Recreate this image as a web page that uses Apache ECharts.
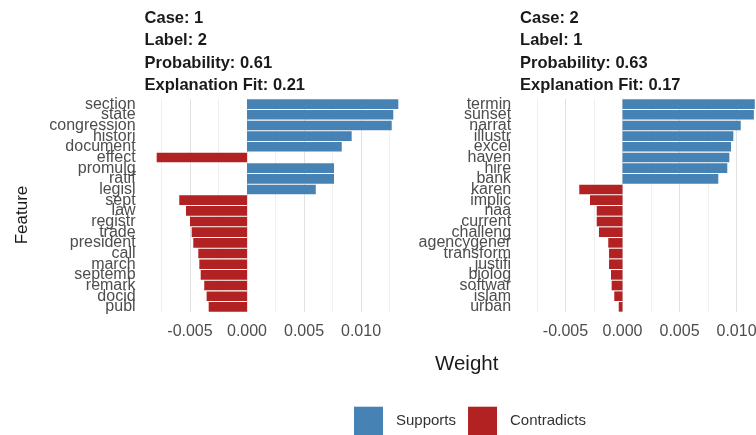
<!DOCTYPE html>
<html>
<head>
<meta charset="utf-8">
<title>LIME features</title>
<script src="https://cdn.jsdelivr.net/npm/echarts@6/dist/echarts.min.js"></script>
<style>
  html, body { margin: 0; padding: 0; background: #fff; }
  #main { width: 756px; height: 435px; }
</style>
</head>
<body>
<div id="main"></div>
<script>
    // 数据
    var caseIds = [1, 2];
    var caseLabels = [2, 1];
    var probabilities = [0.61, 0.63];
    var explanationFits = [0.21, 0.17];

    var features1 = ['section', 'state', 'congression', 'histori', 'document', 'effect', 'promulg', 'ratif', 'legisl',
        'sept', 'law', 'registr', 'trade', 'president', 'call', 'march', 'septemb', 'remark', 'docid', 'publ'];
    var weights1 = [0.01327, 0.01283, 0.01269, 0.00918, 0.00831, -0.00792, 0.00763, 0.00763, 0.00603,
        -0.00594, -0.00535, -0.00500, -0.00485, -0.00471, -0.00427, -0.00418, -0.00406, -0.00375, -0.00354, -0.00336];

    var features2 = ['termin', 'sunset', 'narrat', 'illustr', 'excel', 'haven', 'hire', 'bank', 'karen', 'implic',
        'naa', 'current', 'challeng', 'agencygener', 'transform', 'justifi', 'biolog', 'softwar', 'islam', 'urban'];
    var weights2 = [0.01160, 0.01152, 0.01037, 0.00972, 0.00952, 0.00937, 0.00919, 0.00840, -0.00379, -0.00285,
        -0.00226, -0.00226, -0.00206, -0.00125, -0.00118, -0.00118, -0.00101, -0.00095, -0.00072, -0.00033];

    var xTicks = [-0.005, 0, 0.005, 0.01];
    var minorTicks = [-0.0075, -0.0025, 0.0025, 0.0075, 0.0125];
    var xMin = -0.00898, xMax = 0.01433;

    var blue = '#4682B4', red = '#B22222';
    var grids = [
        { left: 144.6, top: 98.8, width: 265.8, height: 213.4 },
        { left: 520.1, top: 98.8, width: 265.8, height: 213.4 }
    ];

    function titleText(i) {
        return 'Case: ' + caseIds[i] + '\nLabel: ' + caseLabels[i] +
            '\nProbability: ' + probabilities[i].toFixed(2) +
            '\nExplanation Fit: ' + explanationFits[i].toFixed(2);
    }

    // 背景网格线 (precision 要设高, 默认2位会把0.0025等值四舍五入)
    function gridLines(i) {
        var data = [];
        xTicks.forEach(function(v) {
            data.push({ xAxis: v, lineStyle: { color: '#e2e2e2', width: 1, type: 'solid' } });
        });
        minorTicks.forEach(function(v) {
            data.push({ xAxis: v, lineStyle: { color: '#f0f0f0', width: 1, type: 'solid' } });
        });
        return {
            type: 'line', xAxisIndex: i, yAxisIndex: i, data: [], z: 0, silent: true,
            markLine: { z: 0, precision: 6, silent: true, symbol: 'none', label: { show: false }, animation: false, data: data }
        };
    }

    function barSeries(i, weights, name, positive) {
        return {
            name: name, type: 'bar', xAxisIndex: i, yAxisIndex: i, stack: 'p' + i,
            barCategoryGap: '10%', z: 10,
            itemStyle: { color: positive ? blue : red },
            data: weights.map(function(w) {
                return (positive ? w > 0 : w < 0) ? w : '-';
            })
        };
    }

    var chart = echarts.init(document.getElementById('main'), null, { renderer: 'canvas' });
    var option = {
        animation: false,
        backgroundColor: '#fff',
        title: [0, 1].map(function(i) {
            return {
                text: titleText(i), left: grids[i].left, top: 7, padding: 0,
                textStyle: { fontFamily: 'Liberation Sans', fontSize: 16.5, fontWeight: 'bold', color: '#1a1a1a', lineHeight: 22.5 }
            };
        }),
        legend: {
            data: ['Supports', 'Contradicts'],
            left: 354, top: 406.7, padding: 0, itemWidth: 29, itemHeight: 29, itemGap: 12,
            icon: 'rect',
            textStyle: { fontFamily: 'Liberation Sans', fontSize: 15, color: '#333', padding: [0, 0, 0, 8] }
        },
        grid: grids.map(function(g) {
            return { left: g.left, top: g.top, width: g.width, height: g.height, containLabel: false, outerBoundsMode: 'none' };
        }),
        xAxis: [0, 1].map(function(i) {
            return {
                type: 'value', gridIndex: i, min: xMin, max: xMax,
                axisLine: { show: false }, axisTick: { show: false }, splitLine: { show: false },
                axisLabel: {
                    customValues: xTicks, margin: 11, color: '#4d4d4d', fontFamily: 'Liberation Sans', fontSize: 16,
                    formatter: function(v) { return v.toFixed(3); }
                }
            };
        }),
        yAxis: [features1, features2].map(function(f, i) {
            return {
                type: 'category', gridIndex: i, data: f, inverse: true,
                axisLine: { show: false }, axisTick: { show: false }, splitLine: { show: false },
                axisLabel: { interval: 0, margin: 9, color: '#4d4d4d', fontFamily: 'Liberation Sans', fontSize: 16 }
            };
        }),
        graphic: [
            {
                type: 'text', x: 22, y: 215, rotation: Math.PI / 2,
                style: { text: 'Feature', fontFamily: 'Liberation Sans', fontSize: 17, fill: '#1a1a1a', align: 'center', verticalAlign: 'middle' }
            },
            {
                type: 'text', x: 466.7, y: 364,
                style: { text: 'Weight', fontFamily: 'Liberation Sans', fontSize: 20.5, fill: '#1a1a1a', align: 'center', verticalAlign: 'middle' }
            }
        ],
        series: [
            gridLines(0), gridLines(1),
            barSeries(0, weights1, 'Supports', true),
            barSeries(0, weights1, 'Contradicts', false),
            barSeries(1, weights2, 'Supports', true),
            barSeries(1, weights2, 'Contradicts', false)
        ]
    };
    chart.setOption(option);
</script>
</body>
</html>
